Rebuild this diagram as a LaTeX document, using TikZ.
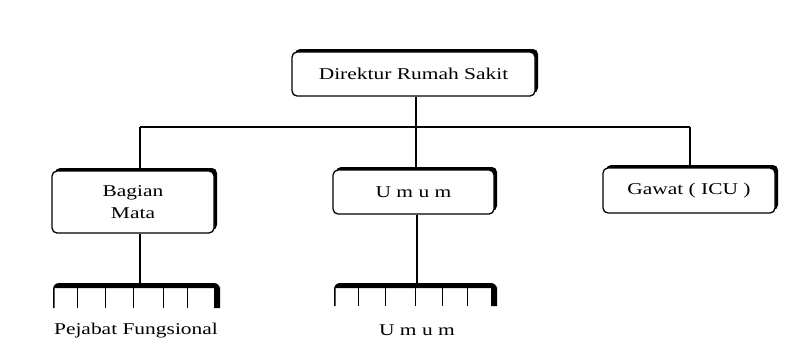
\documentclass[tikz,border=0pt]{standalone}
\usepackage{fontspec}
\setmainfont[FakeStretch=1.3]{Liberation Serif}
\usetikzlibrary{shadows}
\tikzset{
  orgbox/.style={draw=black, line width=1.3pt, rounded corners=5pt, fill=white,
    inner sep=0pt, align=center,
    font=\fontsize{16.5}{22}\selectfont,
    drop shadow={shadow xshift=3pt, shadow yshift=3pt, fill=black, opacity=1}},
  conn/.style={draw=black, line width=1.2pt},
  tick/.style={draw=black, line width=1pt},
  lbl/.style={font=\fontsize{16.5}{22}\selectfont, inner sep=0pt}
}
\newcommand{\combshape}[4]{% L R T B
  \fill[black] (#1,#4) -- (#1,#3+9) [rounded corners=6pt] -- (#1,#3) -- (#2,#3) -- (#2,#3+9) [sharp corners] -- (#2,#4) -- (#2-6,#4) -- (#2-6,#3+5) -- (#1+1.6,#3+5) -- (#1+1.6,#4) -- cycle;
}
\begin{document}
\begin{tikzpicture}[x=1pt,y=-1pt]
\useasboundingbox[fill=white] (0,0) rectangle (800,362);

% boxes
\node[orgbox, minimum width=243pt, minimum height=44pt] (dir) at (413.5,74) {Direktur Rumah Sakit};
\node[orgbox, minimum width=162pt, minimum height=62pt] (bag) at (133,202) {Bagian\\Mata};
\node[orgbox, minimum width=161pt, minimum height=44pt] (umum) at (413.5,192) {U m u m};
\node[orgbox, minimum width=172pt, minimum height=45pt] (gawat) at (689,190.5) {Gawat ( ICU )};

% connectors
\coordinate (bus) at (416,127);
\coordinate (busL) at (140,127);
\coordinate (busR) at (690,127);
\draw[conn] (dir.south -| bus) -- (bus);
\draw[conn] (busL) -- (busR);
\draw[conn] (busL) -- (busL |- bag.north);
\draw[conn] (bus) -- (bus |- umum.north);
\draw[conn] (busR) -- (busR |- gawat.north);

% combs
\coordinate (combA) at (140,283);
\coordinate (combB) at (417,283);
\draw[conn] (bag.south -| combA) -- (combA);
\draw[conn] (umum.south -| combB) -- (combB);

\combshape{53}{220}{283}{308}
\foreach \x in {77,105,133,163,187} \draw[tick] (\x,287) -- (\x,308);
\combshape{334}{497}{283}{306}
\foreach \x in {358,385,415,442,467} \draw[tick] (\x,287) -- (\x,306);

\node[lbl] (pf) at (136,331) {Pejabat Fungsional};
\node[lbl] (um2) at (417,330) {U m u m};
\end{tikzpicture}
\end{document}
